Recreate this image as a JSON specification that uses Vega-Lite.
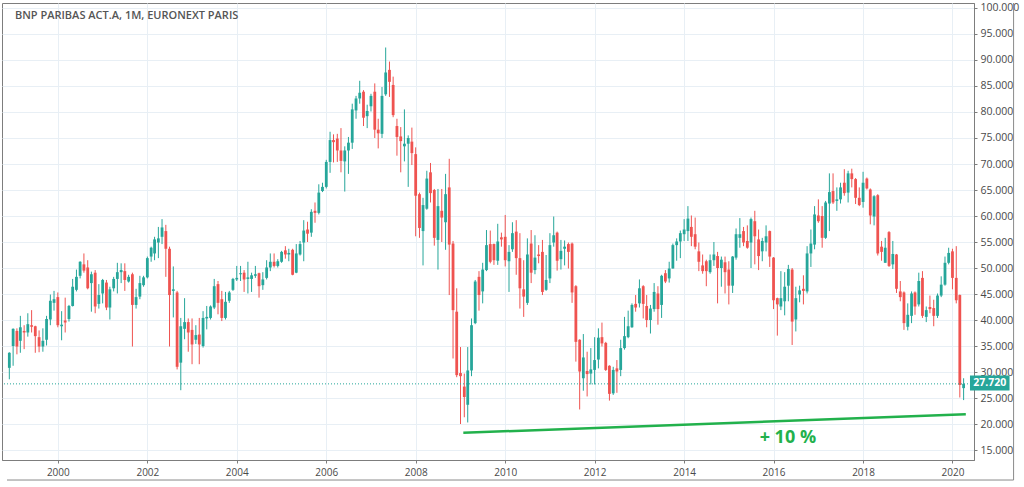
{
  "$schema": "https://vega.github.io/schema/vega-lite/v6.json",
  "width": 972,
  "height": 457,
  "autosize": {"type": "none"},
  "padding": {"left": 2, "top": 3, "right": 50, "bottom": 27},
  "background": "#ffffff",
  "config": {
    "view": {"stroke": "#7d7d7d", "strokeWidth": 1},
    "axis": {"labelFont": "Open Sans", "labelFontSize": 10, "labelColor": "#4a4a4a", "tickColor": "#7d7d7d", "domainColor": "#7d7d7d", "gridColor": "#e8eff5", "gridWidth": 1, "labelOverlap": false}
  },
  "datasets": {"ohlc": [
    {"d":"1998-12-01","o":30.8,"h":33.8,"l":28.6,"c":33.7},
    {"d":"1999-01-01","o":35.0,"h":38.4,"l":31.2,"c":38.3},
    {"d":"1999-02-01","o":37.9,"h":38.4,"l":33.4,"c":34.9},
    {"d":"1999-03-01","o":36.0,"h":40.8,"l":33.7,"c":38.6},
    {"d":"1999-04-01","o":37.9,"h":39.0,"l":34.4,"c":37.6},
    {"d":"1999-05-01","o":37.6,"h":41.3,"l":36.8,"c":39.2},
    {"d":"1999-06-01","o":39.0,"h":41.9,"l":37.6,"c":38.7},
    {"d":"1999-07-01","o":38.8,"h":38.9,"l":33.7,"c":36.9},
    {"d":"1999-08-01","o":36.7,"h":38.0,"l":33.8,"c":34.9},
    {"d":"1999-09-01","o":34.9,"h":38.4,"l":33.9,"c":36.0},
    {"d":"1999-10-01","o":36.2,"h":40.8,"l":35.1,"c":40.2},
    {"d":"1999-11-01","o":40.1,"h":44.9,"l":39.0,"c":43.7},
    {"d":"1999-12-01","o":43.3,"h":45.6,"l":41.8,"c":44.0},
    {"d":"2000-01-01","o":44.4,"h":45.3,"l":38.6,"c":39.0},
    {"d":"2000-02-01","o":38.8,"h":41.7,"l":36.1,"c":39.1},
    {"d":"2000-03-01","o":39.9,"h":44.3,"l":37.6,"c":39.5},
    {"d":"2000-04-01","o":40.2,"h":42.9,"l":39.7,"c":42.7},
    {"d":"2000-05-01","o":42.7,"h":47.9,"l":42.6,"c":46.4},
    {"d":"2000-06-01","o":45.8,"h":49.7,"l":45.5,"c":48.3},
    {"d":"2000-07-01","o":48.5,"h":51.3,"l":48.0,"c":51.2},
    {"d":"2000-08-01","o":50.7,"h":52.8,"l":49.1,"c":49.5},
    {"d":"2000-09-01","o":50.1,"h":51.5,"l":45.9,"c":46.1},
    {"d":"2000-10-01","o":47.1,"h":49.3,"l":41.6,"c":48.8},
    {"d":"2000-11-01","o":49.1,"h":49.6,"l":41.3,"c":42.6},
    {"d":"2000-12-01","o":43.1,"h":46.9,"l":42.2,"c":44.8},
    {"d":"2001-01-01","o":45.1,"h":47.9,"l":43.2,"c":47.7},
    {"d":"2001-02-01","o":47.2,"h":47.7,"l":41.9,"c":42.4},
    {"d":"2001-03-01","o":42.4,"h":46.4,"l":40.1,"c":45.9},
    {"d":"2001-04-01","o":46.1,"h":48.3,"l":45.5,"c":47.9},
    {"d":"2001-05-01","o":47.9,"h":51.0,"l":45.1,"c":49.2},
    {"d":"2001-06-01","o":49.2,"h":50.9,"l":47.1,"c":49.6},
    {"d":"2001-07-01","o":49.4,"h":50.9,"l":45.6,"c":47.7},
    {"d":"2001-08-01","o":47.4,"h":48.7,"l":47.2,"c":48.3},
    {"d":"2001-09-01","o":48.8,"h":49.1,"l":34.9,"c":42.9},
    {"d":"2001-10-01","o":42.9,"h":46.0,"l":42.2,"c":44.4},
    {"d":"2001-11-01","o":44.5,"h":48.5,"l":44.0,"c":47.1},
    {"d":"2001-12-01","o":46.7,"h":48.5,"l":46.4,"c":48.2},
    {"d":"2002-01-01","o":48.2,"h":52.2,"l":48.0,"c":51.9},
    {"d":"2002-02-01","o":52.2,"h":54.1,"l":51.2,"c":53.9},
    {"d":"2002-03-01","o":52.8,"h":56.0,"l":51.5,"c":55.5},
    {"d":"2002-04-01","o":54.9,"h":57.9,"l":51.9,"c":55.7},
    {"d":"2002-05-01","o":56.0,"h":59.4,"l":54.6,"c":57.8},
    {"d":"2002-06-01","o":57.1,"h":58.3,"l":48.3,"c":53.7},
    {"d":"2002-07-01","o":53.7,"h":54.1,"l":34.9,"c":44.8},
    {"d":"2002-08-01","o":45.6,"h":50.3,"l":40.5,"c":45.9},
    {"d":"2002-09-01","o":45.3,"h":45.6,"l":30.5,"c":31.0},
    {"d":"2002-10-01","o":31.8,"h":40.4,"l":26.5,"c":38.8},
    {"d":"2002-11-01","o":38.3,"h":44.2,"l":36.3,"c":39.6},
    {"d":"2002-12-01","o":39.6,"h":40.3,"l":33.9,"c":37.6},
    {"d":"2003-01-01","o":38.1,"h":40.3,"l":31.5,"c":35.3},
    {"d":"2003-02-01","o":36.2,"h":39.0,"l":35.4,"c":37.1},
    {"d":"2003-03-01","o":37.2,"h":40.4,"l":31.5,"c":35.3},
    {"d":"2003-04-01","o":35.0,"h":41.7,"l":34.7,"c":40.4},
    {"d":"2003-05-01","o":40.3,"h":42.7,"l":38.2,"c":40.6},
    {"d":"2003-06-01","o":40.4,"h":42.8,"l":40.1,"c":42.6},
    {"d":"2003-07-01","o":42.4,"h":47.9,"l":42.1,"c":46.5},
    {"d":"2003-08-01","o":46.9,"h":47.5,"l":41.1,"c":43.3},
    {"d":"2003-09-01","o":44.0,"h":45.6,"l":39.8,"c":40.4},
    {"d":"2003-10-01","o":40.4,"h":45.4,"l":40.1,"c":43.5},
    {"d":"2003-11-01","o":43.7,"h":45.6,"l":43.3,"c":45.3},
    {"d":"2003-12-01","o":45.8,"h":48.1,"l":45.6,"c":47.9},
    {"d":"2004-01-01","o":47.8,"h":50.4,"l":47.5,"c":48.1},
    {"d":"2004-02-01","o":48.8,"h":50.4,"l":47.5,"c":49.0},
    {"d":"2004-03-01","o":49.1,"h":49.6,"l":45.4,"c":47.8},
    {"d":"2004-04-01","o":47.9,"h":51.2,"l":45.1,"c":48.2},
    {"d":"2004-05-01","o":47.9,"h":49.1,"l":45.4,"c":48.6},
    {"d":"2004-06-01","o":48.5,"h":50.4,"l":48.1,"c":48.8},
    {"d":"2004-07-01","o":49.0,"h":49.1,"l":44.3,"c":46.5},
    {"d":"2004-08-01","o":46.7,"h":49.2,"l":45.8,"c":47.8},
    {"d":"2004-09-01","o":48.1,"h":51.5,"l":47.8,"c":50.1},
    {"d":"2004-10-01","o":50.1,"h":52.8,"l":49.4,"c":51.2},
    {"d":"2004-11-01","o":51.2,"h":52.8,"l":50.1,"c":50.4},
    {"d":"2004-12-01","o":50.4,"h":51.7,"l":50.1,"c":51.3},
    {"d":"2005-01-01","o":51.2,"h":53.3,"l":51.0,"c":53.1},
    {"d":"2005-02-01","o":53.4,"h":54.2,"l":51.8,"c":52.6},
    {"d":"2005-03-01","o":52.6,"h":53.7,"l":51.3,"c":52.9},
    {"d":"2005-04-01","o":53.5,"h":53.7,"l":48.6,"c":48.7},
    {"d":"2005-05-01","o":49.1,"h":54.6,"l":49.0,"c":52.8},
    {"d":"2005-06-01","o":52.6,"h":55.2,"l":52.4,"c":54.6},
    {"d":"2005-07-01","o":54.9,"h":59.2,"l":51.3,"c":57.2},
    {"d":"2005-08-01","o":57.4,"h":58.9,"l":55.0,"c":56.6},
    {"d":"2005-09-01","o":56.8,"h":61.3,"l":56.0,"c":60.8},
    {"d":"2005-10-01","o":61.0,"h":62.6,"l":58.7,"c":60.6},
    {"d":"2005-11-01","o":60.6,"h":66.1,"l":60.3,"c":64.5},
    {"d":"2005-12-01","o":64.8,"h":66.4,"l":64.6,"c":65.6},
    {"d":"2006-01-01","o":65.6,"h":70.8,"l":65.3,"c":70.4},
    {"d":"2006-02-01","o":70.4,"h":76.2,"l":68.3,"c":74.6},
    {"d":"2006-03-01","o":74.6,"h":75.7,"l":70.3,"c":74.2},
    {"d":"2006-04-01","o":74.9,"h":75.8,"l":70.4,"c":72.6},
    {"d":"2006-05-01","o":72.6,"h":76.9,"l":68.4,"c":70.6},
    {"d":"2006-06-01","o":70.5,"h":73.4,"l":64.7,"c":72.6},
    {"d":"2006-07-01","o":72.6,"h":75.2,"l":68.1,"c":74.1},
    {"d":"2006-08-01","o":74.1,"h":81.6,"l":72.9,"c":80.5},
    {"d":"2006-09-01","o":80.3,"h":83.1,"l":78.7,"c":82.6},
    {"d":"2006-10-01","o":82.6,"h":86.0,"l":81.6,"c":83.7},
    {"d":"2006-11-01","o":83.9,"h":84.2,"l":77.3,"c":78.9},
    {"d":"2006-12-01","o":79.2,"h":81.4,"l":76.9,"c":80.2},
    {"d":"2007-01-01","o":81.1,"h":83.5,"l":80.1,"c":83.1},
    {"d":"2007-02-01","o":83.9,"h":85.5,"l":75.0,"c":76.6},
    {"d":"2007-03-01","o":76.6,"h":78.7,"l":73.0,"c":75.9},
    {"d":"2007-04-01","o":75.8,"h":84.8,"l":75.0,"c":83.1},
    {"d":"2007-05-01","o":83.4,"h":92.4,"l":83.1,"c":87.6},
    {"d":"2007-06-01","o":88.1,"h":89.7,"l":82.9,"c":85.8},
    {"d":"2007-07-01","o":85.2,"h":86.8,"l":79.0,"c":79.4},
    {"d":"2007-08-01","o":77.3,"h":78.7,"l":71.6,"c":75.2},
    {"d":"2007-09-01","o":75.3,"h":77.1,"l":68.4,"c":74.4},
    {"d":"2007-10-01","o":73.4,"h":80.5,"l":70.5,"c":73.9},
    {"d":"2007-11-01","o":73.9,"h":75.5,"l":65.6,"c":75.0},
    {"d":"2007-12-01","o":74.3,"h":77.0,"l":69.8,"c":72.1},
    {"d":"2008-01-01","o":71.9,"h":73.2,"l":56.1,"c":63.9},
    {"d":"2008-02-01","o":64.2,"h":64.5,"l":55.8,"c":57.7},
    {"d":"2008-03-01","o":57.1,"h":63.5,"l":50.5,"c":62.1},
    {"d":"2008-04-01","o":61.4,"h":68.7,"l":61.2,"c":67.2},
    {"d":"2008-05-01","o":68.4,"h":70.2,"l":62.6,"c":64.4},
    {"d":"2008-06-01","o":65.0,"h":65.2,"l":54.3,"c":55.8},
    {"d":"2008-07-01","o":55.4,"h":65.2,"l":49.7,"c":61.9},
    {"d":"2008-08-01","o":61.0,"h":65.2,"l":55.0,"c":59.7},
    {"d":"2008-09-01","o":58.8,"h":68.1,"l":53.5,"c":64.2},
    {"d":"2008-10-01","o":65.5,"h":71.0,"l":44.8,"c":54.5},
    {"d":"2008-11-01","o":54.7,"h":55.2,"l":32.6,"c":41.9},
    {"d":"2008-12-01","o":41.6,"h":46.1,"l":29.0,"c":29.4},
    {"d":"2009-01-01","o":29.8,"h":34.8,"l":20.0,"c":29.2},
    {"d":"2009-02-01","o":27.2,"h":29.7,"l":21.3,"c":25.2},
    {"d":"2009-03-01","o":23.7,"h":34.8,"l":20.3,"c":30.3},
    {"d":"2009-04-01","o":30.3,"h":40.3,"l":29.2,"c":39.0},
    {"d":"2009-05-01","o":39.4,"h":47.7,"l":39.2,"c":47.4},
    {"d":"2009-06-01","o":48.3,"h":49.4,"l":41.8,"c":44.8},
    {"d":"2009-07-01","o":45.5,"h":51.0,"l":43.2,"c":49.7},
    {"d":"2009-08-01","o":49.6,"h":57.3,"l":49.4,"c":54.4},
    {"d":"2009-09-01","o":54.6,"h":57.2,"l":50.9,"c":51.2},
    {"d":"2009-10-01","o":54.6,"h":54.7,"l":50.6,"c":51.5},
    {"d":"2009-11-01","o":51.4,"h":58.5,"l":50.6,"c":55.1},
    {"d":"2009-12-01","o":55.9,"h":56.8,"l":54.1,"c":55.5},
    {"d":"2010-01-01","o":56.0,"h":60.2,"l":50.3,"c":51.5},
    {"d":"2010-02-01","o":51.3,"h":54.4,"l":45.4,"c":53.1},
    {"d":"2010-03-01","o":53.6,"h":58.8,"l":53.1,"c":56.7},
    {"d":"2010-04-01","o":57.0,"h":59.2,"l":48.7,"c":51.9},
    {"d":"2010-05-01","o":51.9,"h":56.7,"l":42.2,"c":46.1},
    {"d":"2010-06-01","o":45.9,"h":51.5,"l":40.6,"c":44.5},
    {"d":"2010-07-01","o":43.3,"h":55.7,"l":42.9,"c":52.6},
    {"d":"2010-08-01","o":54.7,"h":57.3,"l":47.1,"c":49.1},
    {"d":"2010-09-01","o":49.6,"h":56.3,"l":48.8,"c":52.0},
    {"d":"2010-10-01","o":52.6,"h":54.4,"l":50.9,"c":52.3},
    {"d":"2010-11-01","o":53.1,"h":55.4,"l":44.8,"c":45.4},
    {"d":"2010-12-01","o":45.8,"h":52.5,"l":45.6,"c":47.7},
    {"d":"2011-01-01","o":48.0,"h":56.7,"l":47.1,"c":54.4},
    {"d":"2011-02-01","o":54.9,"h":59.9,"l":54.1,"c":56.3},
    {"d":"2011-03-01","o":56.8,"h":57.0,"l":49.5,"c":51.4},
    {"d":"2011-04-01","o":51.7,"h":55.4,"l":49.7,"c":53.3},
    {"d":"2011-05-01","o":53.7,"h":55.3,"l":50.5,"c":54.1},
    {"d":"2011-06-01","o":54.6,"h":54.9,"l":49.9,"c":53.1},
    {"d":"2011-07-01","o":54.7,"h":54.9,"l":43.3,"c":45.3},
    {"d":"2011-08-01","o":46.5,"h":46.7,"l":32.0,"c":35.8},
    {"d":"2011-09-01","o":36.2,"h":36.3,"l":22.8,"c":30.1},
    {"d":"2011-10-01","o":28.8,"h":37.3,"l":26.4,"c":32.8},
    {"d":"2011-11-01","o":30.2,"h":33.9,"l":25.3,"c":29.6},
    {"d":"2011-12-01","o":29.7,"h":34.6,"l":27.6,"c":30.5},
    {"d":"2012-01-01","o":30.4,"h":36.7,"l":27.6,"c":32.3},
    {"d":"2012-02-01","o":32.4,"h":38.4,"l":30.7,"c":36.6},
    {"d":"2012-03-01","o":36.7,"h":39.5,"l":34.9,"c":35.5},
    {"d":"2012-04-01","o":35.6,"h":35.8,"l":30.2,"c":30.4},
    {"d":"2012-05-01","o":31.2,"h":31.3,"l":24.5,"c":25.8},
    {"d":"2012-06-01","o":25.9,"h":31.0,"l":25.6,"c":30.4},
    {"d":"2012-07-01","o":30.7,"h":32.3,"l":26.0,"c":30.1},
    {"d":"2012-08-01","o":30.4,"h":36.2,"l":29.2,"c":34.6},
    {"d":"2012-09-01","o":34.6,"h":40.6,"l":34.3,"c":36.9},
    {"d":"2012-10-01","o":36.7,"h":41.8,"l":36.5,"c":38.8},
    {"d":"2012-11-01","o":38.6,"h":43.2,"l":38.5,"c":42.9},
    {"d":"2012-12-01","o":43.1,"h":44.8,"l":41.6,"c":42.4},
    {"d":"2013-01-01","o":43.2,"h":47.8,"l":42.4,"c":46.1},
    {"d":"2013-02-01","o":46.5,"h":46.7,"l":40.3,"c":43.1},
    {"d":"2013-03-01","o":42.7,"h":44.8,"l":38.6,"c":40.0},
    {"d":"2013-04-01","o":40.0,"h":42.9,"l":37.4,"c":42.2},
    {"d":"2013-05-01","o":42.1,"h":47.1,"l":41.6,"c":45.4},
    {"d":"2013-06-01","o":45.1,"h":46.5,"l":39.1,"c":42.1},
    {"d":"2013-07-01","o":42.9,"h":48.7,"l":40.4,"c":48.5},
    {"d":"2013-08-01","o":49.0,"h":49.6,"l":47.1,"c":47.4},
    {"d":"2013-09-01","o":48.0,"h":51.2,"l":47.2,"c":49.9},
    {"d":"2013-10-01","o":49.9,"h":54.7,"l":49.9,"c":54.4},
    {"d":"2013-11-01","o":54.4,"h":55.7,"l":51.4,"c":55.1},
    {"d":"2013-12-01","o":55.1,"h":57.2,"l":51.9,"c":56.7},
    {"d":"2014-01-01","o":56.5,"h":59.4,"l":55.2,"c":57.4},
    {"d":"2014-02-01","o":57.1,"h":61.9,"l":55.2,"c":59.5},
    {"d":"2014-03-01","o":57.9,"h":60.1,"l":54.2,"c":56.0},
    {"d":"2014-04-01","o":56.5,"h":59.7,"l":53.6,"c":54.1},
    {"d":"2014-05-01","o":53.2,"h":54.9,"l":49.4,"c":51.2},
    {"d":"2014-06-01","o":50.5,"h":52.6,"l":48.9,"c":49.4},
    {"d":"2014-07-01","o":51.3,"h":51.6,"l":46.5,"c":49.4},
    {"d":"2014-08-01","o":49.2,"h":52.6,"l":48.9,"c":51.5},
    {"d":"2014-09-01","o":51.5,"h":55.0,"l":50.4,"c":52.6},
    {"d":"2014-10-01","o":52.3,"h":53.1,"l":43.2,"c":50.0},
    {"d":"2014-11-01","o":50.0,"h":52.2,"l":46.4,"c":51.6},
    {"d":"2014-12-01","o":51.1,"h":52.2,"l":45.1,"c":49.2},
    {"d":"2015-01-01","o":49.7,"h":51.3,"l":43.0,"c":46.6},
    {"d":"2015-02-01","o":46.6,"h":52.3,"l":45.2,"c":52.2},
    {"d":"2015-03-01","o":52.0,"h":57.6,"l":51.6,"c":56.5},
    {"d":"2015-04-01","o":55.8,"h":59.6,"l":53.9,"c":56.5},
    {"d":"2015-05-01","o":57.1,"h":57.9,"l":54.2,"c":54.9},
    {"d":"2015-06-01","o":55.2,"h":58.2,"l":53.7,"c":53.9},
    {"d":"2015-07-01","o":54.9,"h":59.7,"l":50.0,"c":59.4},
    {"d":"2015-08-01","o":59.0,"h":61.0,"l":50.7,"c":56.1},
    {"d":"2015-09-01","o":55.5,"h":57.4,"l":49.6,"c":52.3},
    {"d":"2015-10-01","o":53.2,"h":55.8,"l":51.3,"c":55.2},
    {"d":"2015-11-01","o":54.9,"h":58.2,"l":53.2,"c":56.1},
    {"d":"2015-12-01","o":57.1,"h":57.2,"l":50.2,"c":52.2},
    {"d":"2016-01-01","o":52.0,"h":52.1,"l":42.1,"c":43.8},
    {"d":"2016-02-01","o":44.2,"h":44.3,"l":37.0,"c":43.0},
    {"d":"2016-03-01","o":42.6,"h":49.4,"l":41.9,"c":44.2},
    {"d":"2016-04-01","o":43.6,"h":49.2,"l":40.9,"c":46.4},
    {"d":"2016-05-01","o":46.6,"h":50.6,"l":43.6,"c":49.8},
    {"d":"2016-06-01","o":49.7,"h":50.0,"l":35.2,"c":39.7},
    {"d":"2016-07-01","o":40.1,"h":46.4,"l":37.8,"c":44.2},
    {"d":"2016-08-01","o":44.9,"h":46.6,"l":43.4,"c":45.7},
    {"d":"2016-09-01","o":46.0,"h":48.6,"l":43.0,"c":45.6},
    {"d":"2016-10-01","o":45.5,"h":54.2,"l":45.1,"c":52.8},
    {"d":"2016-11-01","o":52.8,"h":57.4,"l":50.2,"c":54.7},
    {"d":"2016-12-01","o":54.5,"h":61.9,"l":53.6,"c":60.3},
    {"d":"2017-01-01","o":60.1,"h":63.2,"l":58.7,"c":59.0},
    {"d":"2017-02-01","o":60.0,"h":61.9,"l":53.9,"c":55.8},
    {"d":"2017-03-01","o":55.8,"h":62.9,"l":55.6,"c":62.6},
    {"d":"2017-04-01","o":62.4,"h":68.2,"l":57.1,"c":64.6},
    {"d":"2017-05-01","o":64.8,"h":68.2,"l":62.3,"c":62.6},
    {"d":"2017-06-01","o":62.9,"h":65.5,"l":61.0,"c":63.2},
    {"d":"2017-07-01","o":63.2,"h":66.4,"l":62.4,"c":65.5},
    {"d":"2017-08-01","o":66.4,"h":69.0,"l":63.9,"c":64.4},
    {"d":"2017-09-01","o":64.5,"h":68.7,"l":62.6,"c":68.2},
    {"d":"2017-10-01","o":68.2,"h":69.1,"l":65.5,"c":67.1},
    {"d":"2017-11-01","o":67.1,"h":67.3,"l":62.3,"c":63.5},
    {"d":"2017-12-01","o":63.5,"h":65.5,"l":61.9,"c":62.1},
    {"d":"2018-01-01","o":62.7,"h":68.5,"l":61.6,"c":66.4},
    {"d":"2018-02-01","o":67.2,"h":67.4,"l":65.1,"c":65.3},
    {"d":"2018-03-01","o":65.1,"h":65.3,"l":58.4,"c":60.1},
    {"d":"2018-04-01","o":59.9,"h":64.0,"l":58.2,"c":63.8},
    {"d":"2018-05-01","o":64.0,"h":64.2,"l":52.4,"c":52.8},
    {"d":"2018-06-01","o":54.1,"h":55.2,"l":51.4,"c":53.1},
    {"d":"2018-07-01","o":51.0,"h":55.8,"l":51.0,"c":53.9},
    {"d":"2018-08-01","o":56.9,"h":57.1,"l":50.2,"c":50.4},
    {"d":"2018-09-01","o":50.7,"h":55.2,"l":49.8,"c":52.7},
    {"d":"2018-10-01","o":52.6,"h":52.7,"l":45.2,"c":46.0},
    {"d":"2018-11-01","o":45.5,"h":47.5,"l":43.6,"c":44.4},
    {"d":"2018-12-01","o":45.3,"h":45.5,"l":38.1,"c":39.4},
    {"d":"2019-01-01","o":38.7,"h":43.2,"l":38.0,"c":41.0},
    {"d":"2019-02-01","o":40.8,"h":45.5,"l":39.4,"c":45.1},
    {"d":"2019-03-01","o":45.3,"h":45.5,"l":41.0,"c":42.6},
    {"d":"2019-04-01","o":43.0,"h":49.1,"l":42.6,"c":47.5},
    {"d":"2019-05-01","o":48.1,"h":49.4,"l":40.4,"c":40.8},
    {"d":"2019-06-01","o":40.6,"h":42.6,"l":39.6,"c":41.9},
    {"d":"2019-07-01","o":42.5,"h":44.7,"l":41.3,"c":42.1},
    {"d":"2019-08-01","o":42.3,"h":43.9,"l":38.8,"c":40.8},
    {"d":"2019-09-01","o":40.8,"h":45.1,"l":40.4,"c":44.7},
    {"d":"2019-10-01","o":44.7,"h":48.4,"l":44.4,"c":46.8},
    {"d":"2019-11-01","o":46.8,"h":52.2,"l":46.6,"c":51.0},
    {"d":"2019-12-01","o":51.0,"h":53.9,"l":50.7,"c":52.9},
    {"d":"2020-01-01","o":53.2,"h":53.7,"l":45.9,"c":48.1},
    {"d":"2020-02-01","o":48.1,"h":54.2,"l":43.2,"c":43.8},
    {"d":"2020-03-01","o":44.8,"h":44.9,"l":25.1,"c":27.5},
    {"d":"2020-04-01","o":26.9,"h":28.8,"l":24.6,"c":27.72}
  ], "one": [{}]},
  "layer": [
    {
      "data": {"name": "ohlc"},
      "mark": {"type": "rule", "strokeWidth": 1},
      "encoding": {
        "x": {
          "field": "d", "type": "temporal",
          "scale": {"type": "utc", "domain": [{"year": 1998, "month": 11, "date": 12, "utc": true}, {"year": 2020, "month": 5, "date": 15, "utc": true}]},
          "axis": {
            "orient": "bottom", "title": null, "format": "%Y", "formatType": "utc",
            "values": [
              {"year": 2000, "utc": true}, {"year": 2002, "utc": true}, {"year": 2004, "utc": true},
              {"year": 2006, "utc": true}, {"year": 2008, "utc": true}, {"year": 2010, "utc": true},
              {"year": 2012, "utc": true}, {"year": 2014, "utc": true}, {"year": 2016, "utc": true},
              {"year": 2018, "utc": true}, {"year": 2020, "utc": true}
            ],
            "tickCount": 30,
            "grid": true, "tickSize": 3, "labelPadding": 4, "domain": true, "labelOverlap": false
          }
        },
        "y": {
          "field": "l", "type": "quantitative",
          "scale": {"domain": [13.08, 100.96], "nice": false, "zero": false},
          "axis": {
            "orient": "right", "title": null, "values": [15, 20, 25, 30, 35, 40, 45, 50, 55, 60, 65, 70, 75, 80, 85, 90, 95, 100],
            "tickCount": 30,
            "format": ".3f", "grid": true, "tickSize": 3, "labelPadding": 3,
            "labelOverlap": false, "labelSeparation": 0, "labelBound": false, "labelFontSize": 10.5
          }
        },
        "y2": {"field": "h"},
        "color": {
          "condition": {"test": "datum.c >= datum.o", "value": "#26a69a"},
          "value": "#ef5350"
        }
      }
    },
    {
      "data": {"name": "ohlc"},
      "mark": {"type": "bar", "size": 2.8},
      "encoding": {
        "x": {"field": "d", "type": "temporal"},
        "y": {"field": "o", "type": "quantitative"},
        "y2": {"field": "c"},
        "color": {
          "condition": {"test": "datum.c >= datum.o", "value": "#26a69a"},
          "value": "#ef5350"
        }
      }
    },
    {
      "data": {"name": "one"},
      "mark": {"type": "rule", "strokeDash": [1, 2], "strokeWidth": 1},
      "encoding": {"y": {"datum": 27.72}, "color": {"value": "#26a69a"}}
    },
    {
      "data": {"name": "one"},
      "mark": {"type": "rule", "strokeWidth": 2.5, "strokeCap": "butt"},
      "encoding": {
        "x": {"datum": {"year": 2009, "month": 1, "date": 24, "utc": true}, "type": "temporal"},
        "x2": {"datum": {"year": 2020, "month": 4, "date": 19, "utc": true}},
        "y": {"datum": 18.3},
        "y2": {"datum": 21.9},
        "color": {"value": "#22b14c"}
      }
    },
    {
      "data": {"name": "one"},
      "mark": {"type": "text", "text": "+ 10 %", "fontSize": 18, "fontWeight": "bold", "font": "Open Sans", "align": "center", "baseline": "middle"},
      "encoding": {
        "x": {"datum": {"year": 2016, "month": 4, "date": 27, "utc": true}, "type": "temporal"},
        "y": {"datum": 17.4},
        "color": {"value": "#22b14c"}
      }
    },
    {
      "data": {"name": "one"},
      "mark": {"type": "text", "text": "BNP PARIBAS ACT.A, 1M, EURONEXT PARIS", "fontSize": 11, "font": "Open Sans", "fontWeight": 600, "align": "left", "baseline": "middle"},
      "encoding": {
        "x": {"datum": {"year": 1999, "month": 1, "date": 16, "utc": true}, "type": "temporal"},
        "y": {"datum": 98.4},
        "color": {"value": "#555555"}
      }
    },
    {
      "data": {"name": "one"},
      "mark": {"type": "rect", "clip": false},
      "encoding": {
        "x": {"datum": {"year": 2020, "month": 5, "date": 23, "utc": true}, "type": "temporal"},
        "x2": {"datum": {"year": 2021, "month": 4, "date": 11, "utc": true}},
        "y": {"datum": 29.35},
        "y2": {"datum": 26.45},
        "color": {"value": "#26a69a"}
      }
    },
    {
      "data": {"name": "one"},
      "mark": {"type": "text", "text": "27.720", "fontSize": 10.5, "font": "Open Sans", "fontWeight": "bold", "align": "center", "baseline": "middle", "clip": false},
      "encoding": {
        "x": {"datum": {"year": 2020, "month": 10, "date": 31, "utc": true}, "type": "temporal"},
        "y": {"datum": 27.8},
        "color": {"value": "#ffffff"}
      }
    },
    {
      "data": {"name": "one"},
      "mark": {"type": "rule", "clip": false, "strokeWidth": 1},
      "encoding": {
        "x": {"datum": {"year": 2021, "month": 5, "date": 14, "utc": true}, "type": "temporal"},
        "y": {"datum": 100.96},
        "y2": {"datum": 9.23},
        "color": {"value": "#8a8a8a"}
      }
    },
    {
      "data": {"name": "one"},
      "mark": {"type": "rule", "clip": false, "strokeWidth": 1},
      "encoding": {
        "x": {"datum": {"year": 1998, "month": 11, "date": 12, "utc": true}, "type": "temporal"},
        "x2": {"datum": {"year": 2021, "month": 5, "date": 14, "utc": true}},
        "y": {"datum": 9.23},
        "color": {"value": "#8a8a8a"}
      }
    }
  ]
}
